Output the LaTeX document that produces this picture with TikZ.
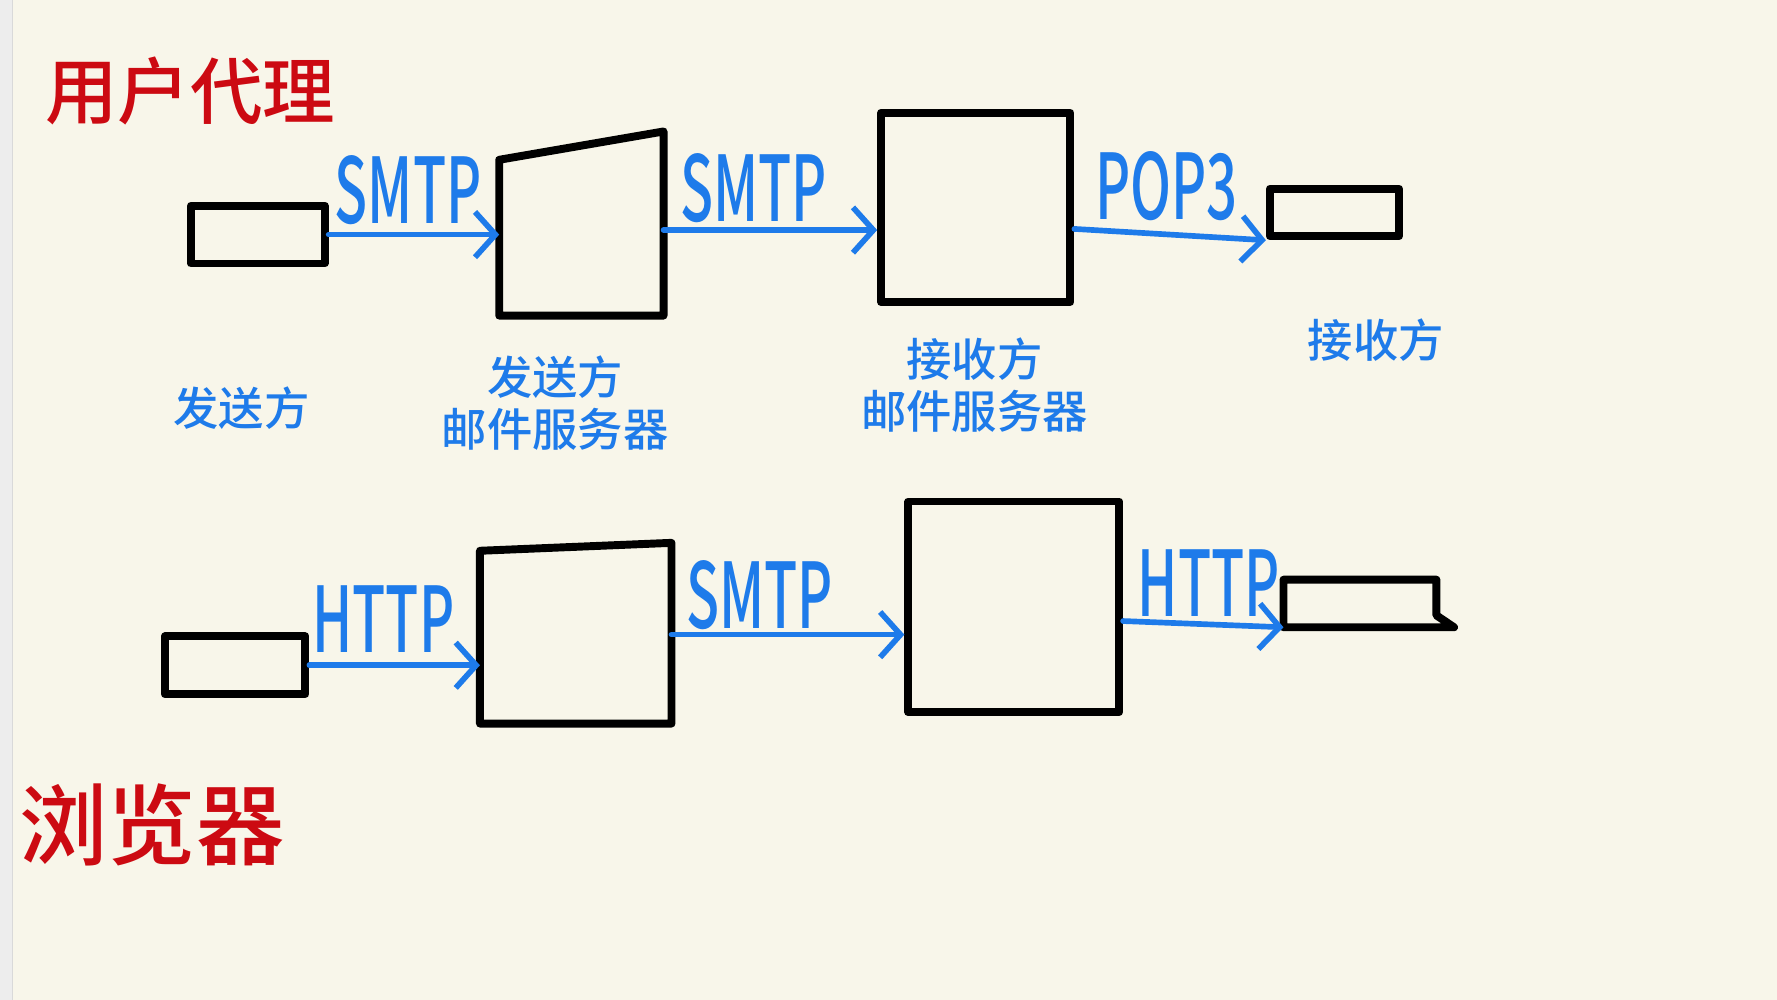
\documentclass[tikz,border=0pt]{standalone}
\usepackage{fontspec}
\setmainfont{Noto Sans CJK SC}
\newfontfamily\medium{Noto Sans CJK SC Medium}
\usetikzlibrary{arrows.meta}
\definecolor{paper}{HTML}{F8F6EA}
\definecolor{pen}{HTML}{1E7BEA}
\definecolor{ink}{HTML}{CC0A12}
\newcommand{\narrow}[1]{\scalebox{.6}[1]{#1}}

\begin{document}
\begin{tikzpicture}[
  x=1pt,
  y=-1pt,
  box/.style={draw=black,line width=7pt,line join=round,inner sep=0pt},
  link/.style={draw=pen,line width=5pt,line cap=round,-{Straight Barb[length=18pt,width=40pt,line width=5pt]}},
  proto/.style={text=pen,font=\fontsize{80}{80}\selectfont\medium,inner sep=0pt},
  lab/.style={text=pen,font=\fontsize{40}{46}\selectfont\medium,align=center,inner sep=0pt},
  title/.style={text=ink,inner sep=0pt}
]
\useasboundingbox (0,0) rectangle (1568,882);
\fill[paper] (0,0) rectangle (1568,882);
\fill[black!7] (0,0) rectangle (11,882);
\draw[black!15,line width=1pt] (11,0) -- (11,882);

\node[title,font=\fontsize{64}{64}\selectfont\medium] (agent) at (168,80) {用户代理};
\node[title,font=\fontsize{78}{78}\selectfont\medium] (browser) at (134,728) {浏览器};

% user agent row
\node[box,minimum width=118pt,minimum height=51pt] (ua1) at (227.5,207) {};
\draw[box] (440.5,141) -- (585.5,116) -- (585.5,278.5) -- (440.5,278.5) -- cycle;
\coordinate (srv1-in) at (440.5,207);
\coordinate (srv1-out) at (585.5,203);
\node[box,minimum width=167pt,minimum height=167pt] (srv2) at (861,183) {};
\node[box,minimum width=114pt,minimum height=42pt] (ua2) at (1177.5,187.5) {};

\draw[link] (ua1.east) -- (srv1-in) node[proto,midway,above=6pt,xshift=-5pt] (p1) {\narrow{SMTP}};
\draw[link] (srv1-out) -- (srv1-out -| srv2.west) node[proto,midway,above=4pt,xshift=-15pt] (p2) {\narrow{SMTP}};
\draw[link] (srv2.east |- 0,202) -- (ua2.south west) node[proto,midway,above=10pt,xshift=-3pt] (p3) {\narrow{POP3}};

\node[lab] (l1) at (213,360) {发送方};
\node[lab] (l2) at (490,356) {发送方\\邮件服务器};
\node[lab] (l3) at (860,340) {接收方\\邮件服务器};
\node[lab] (l4) at (1214,300) {接收方};

% browser row
\node[box,minimum width=124pt,minimum height=51pt] (ua3) at (207.5,587) {};
\draw[box] (423.5,486) -- (592.5,479) -- (592.5,638.5) -- (423.5,638.5) -- cycle;
\coordinate (srv3-in) at (423.5,587);
\coordinate (srv3-out) at (592.5,560);
\node[box,minimum width=186pt,minimum height=186pt] (srv4) at (894.5,535.5) {};
\draw[box] (1132.5,511.5) -- (1267.5,511.5) -- (1267.5,543) -- (1283,553.5) -- (1132.5,553.5) -- cycle;
\coordinate (ua4) at (1132.5,553.5);

\draw[link] (ua3.east) -- (srv3-in) node[proto,midway,above=9pt,xshift=-10pt] (p4) {\narrow{HTTP}};
\draw[link] (srv3-out) -- (srv3-out -| srv4.west) node[proto,midway,above=2pt,xshift=-25pt] (p5) {\narrow{SMTP}};
\draw[link] (srv4.east |- 0,548) -- (ua4) node[proto,midway,above=4pt,xshift=5pt] (p6) {\narrow{HTTP}};
\end{tikzpicture}
\end{document}
